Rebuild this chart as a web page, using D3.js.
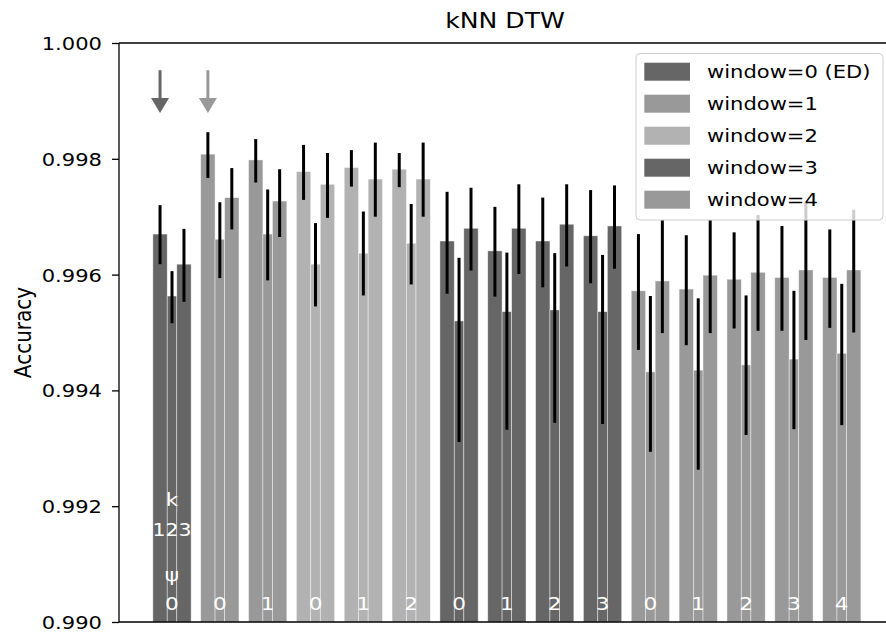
<!DOCTYPE html>
<html>
<head>
<meta charset="utf-8">
<script src="https://cdn.jsdelivr.net/npm/d3@7"></script>
<style>
  body { margin: 0; background: #fff; }
  text { font-family: "DejaVu Sans", sans-serif; }
</style>
</head>
<body>
<script>

// one group per (window, psi) setting, three bars per group (k = 1, 2, 3)
var windows = [0, 1, 1, 2, 2, 2, 3, 3, 3, 3, 4, 4, 4, 4, 4];
var psiLabels = ["0", "0", "1", "0", "1", "2", "0", "1", "2", "3", "0", "1", "2", "3", "4"];
var legendLabels = ["window=0 (ED)", "window=1", "window=2", "window=3", "window=4"];
var windowColors = ["#666666", "#999999", "#b2b2b2", "#666666", "#999999"];
var yTicks = [0.990, 0.992, 0.994, 0.996, 0.998, 1.000];

var k1 = [0.99670, 0.99808, 0.99798, 0.99778, 0.99785, 0.99782, 0.99658, 0.99641, 0.99658, 0.99667, 0.99572, 0.99575, 0.99592, 0.99595, 0.99595];
var k1Lo = [0.99618, 0.99767, 0.99759, 0.99729, 0.99752, 0.99751, 0.99567, 0.99562, 0.99578, 0.99585, 0.99470, 0.99478, 0.99507, 0.99503, 0.99508];
var k1Hi = [0.99720, 0.99846, 0.99834, 0.99824, 0.99815, 0.99810, 0.99743, 0.99717, 0.99733, 0.99746, 0.99670, 0.99668, 0.99673, 0.99684, 0.99678];

var k2 = [0.99563, 0.99661, 0.99670, 0.99618, 0.99637, 0.99654, 0.99520, 0.99536, 0.99539, 0.99536, 0.99432, 0.99435, 0.99444, 0.99454, 0.99464];
var k2Lo = [0.99516, 0.99594, 0.99590, 0.99545, 0.99564, 0.99583, 0.99311, 0.99332, 0.99344, 0.99342, 0.99294, 0.99263, 0.99323, 0.99333, 0.99340];
var k2Hi = [0.99606, 0.99725, 0.99747, 0.99689, 0.99709, 0.99722, 0.99629, 0.99638, 0.99637, 0.99634, 0.99563, 0.99559, 0.99564, 0.99572, 0.99584];

var k3 = [0.99618, 0.99733, 0.99727, 0.99756, 0.99765, 0.99765, 0.99680, 0.99680, 0.99687, 0.99684, 0.99589, 0.99599, 0.99604, 0.99608, 0.99608];
var k3Lo = [0.99553, 0.99678, 0.99665, 0.99698, 0.99700, 0.99700, 0.99607, 0.99601, 0.99614, 0.99610, 0.99499, 0.99499, 0.99503, 0.99487, 0.99500];
var k3Hi = [0.99679, 0.99784, 0.99782, 0.99810, 0.99828, 0.99828, 0.99750, 0.99756, 0.99756, 0.99754, 0.99694, 0.99694, 0.99703, 0.99726, 0.99712];

// arrows marking the best setting of the first two windows
var arrowGroups = [0, 1];
var arrowColors = ["#666666", "#999999"];

var width = 886, height = 634;
var plotLeft = 119, plotTop = 43, plotBottom = 622;
var sx = 1.17; // the picture is a bit wider than tall, text too

var svg = d3.select("body").append("svg")
    .attr("width", width)
    .attr("height", height);

var step = 47.84;
var x = d3.scaleLinear().domain([-1.1, 15.1]).range([172 - 1.1 * step, 172 + 15.1 * step]);
var y = d3.scaleLinear().domain([0.990, 1.000]).range([plotBottom, plotTop]);

// bars: k=1 left, k=2 narrow middle, k=3 right
var series = [
  {vals: k1, lo: k1Lo, hi: k1Hi, off: -0.25, w: 0.3},
  {vals: k2, lo: k2Lo, hi: k2Hi, off: 0, w: 0.2},
  {vals: k3, lo: k3Lo, hi: k3Hi, off: 0.25, w: 0.3}
];

var plot = svg.append("g");

series.forEach(function(s) {
  plot.selectAll(null)
      .data(s.vals)
      .enter()
      .append("rect")
      .attr("x", function(d, i) { return x(i + s.off - s.w / 2); })
      .attr("width", function(d, i) { return x(i + s.off + s.w / 2) - x(i + s.off - s.w / 2); })
      .attr("y", function(d) { return y(d); })
      .attr("height", function(d) { return y(0.990) - y(d); })
      .attr("fill", function(d, i) { return windowColors[windows[i]]; })
      .attr("stroke", "#fff")
      .attr("stroke-width", 0.7)
      .attr("stroke-opacity", 0.6);
});

series.forEach(function(s) {
  plot.selectAll(null)
      .data(s.vals)
      .enter()
      .append("line")
      .attr("x1", function(d, i) { return x(i + s.off); })
      .attr("x2", function(d, i) { return x(i + s.off); })
      .attr("y1", function(d, i) { return y(s.lo[i]); })
      .attr("y2", function(d, i) { return y(s.hi[i]); })
      .attr("stroke", "#000")
      .attr("stroke-width", 3);
});

// stretched text helper
function stext(g, px, py, str, size, anchor, color) {
  return g.append("text")
      .attr("transform", "translate(" + px + "," + py + ") scale(" + sx + ",1)")
      .attr("text-anchor", anchor)
      .style("font-size", size + "px")
      .style("fill", color)
      .text(str);
}

// labels inside the bars
psiLabels.forEach(function(p, i) {
  stext(plot, x(i), 610, p, 18.5, "middle", "#fff");
});
stext(plot, x(0), 506, "k", 18.5, "middle", "#fff");
stext(plot, x(0), 536, "123", 17.5, "middle", "#fff");
stext(plot, x(0), 581, "\u03c8", 18.5, "middle", "#fff");

// arrows
arrowGroups.forEach(function(gi, j) {
  var ax = x(gi - 0.25);
  plot.append("line")
      .attr("x1", ax).attr("x2", ax)
      .attr("y1", y(0.99953)).attr("y2", y(0.99905))
      .attr("stroke", arrowColors[j])
      .attr("stroke-width", 3);
  plot.append("path")
      .attr("d", "M" + (ax - 9) + "," + y(0.99905) + "L" + (ax + 9) + "," + y(0.99905) + "L" + ax + "," + y(0.99879) + "Z")
      .attr("fill", arrowColors[j]);
});

// y axis
var yAxis = svg.append("g")
    .attr("transform", "translate(" + plotLeft + ",0)")
    .call(d3.axisLeft(y).tickValues(yTicks).tickFormat(d3.format(".3f")).tickSize(7));
yAxis.select(".domain").remove();
yAxis.selectAll(".tick line").attr("stroke", "#000").attr("stroke-width", 1.3);
yAxis.selectAll(".tick text")
    .attr("x", -17 / sx)
    .attr("dy", "0.36em")
    .attr("transform", "scale(" + sx + ",1)")
    .style("font-size", "18px")
    .style("font-family", "DejaVu Sans")
    .style("fill", "#000");

// spines
svg.append("line").attr("x1", plotLeft).attr("x2", plotLeft).attr("y1", plotTop).attr("y2", plotBottom)
    .attr("stroke", "#000").attr("stroke-width", 1.3);
svg.append("line").attr("x1", plotLeft).attr("x2", width).attr("y1", plotTop).attr("y2", plotTop)
    .attr("stroke", "#000").attr("stroke-width", 1.3);
svg.append("line").attr("x1", plotLeft).attr("x2", width).attr("y1", plotBottom).attr("y2", plotBottom)
    .attr("stroke", "#000").attr("stroke-width", 1.3);

// title and y label
stext(svg, 505, 28, "kNN DTW", 21.5, "middle", "#000");
svg.append("text")
    .attr("transform", "translate(31," + ((plotTop + plotBottom) / 2) + ") scale(" + sx + ",1) rotate(-90)")
    .attr("text-anchor", "middle")
    .style("font-size", "20px")
    .style("fill", "#000")
    .text("Accuracy");

// legend, drawn over the bars with a see-through white box
var legend = svg.append("g");
legend.append("rect")
    .attr("x", 636).attr("y", 53.5)
    .attr("width", 247).attr("height", 166.5)
    .attr("rx", 4)
    .attr("fill", "#fff").attr("fill-opacity", 0.8)
    .attr("stroke", "#cccccc").attr("stroke-width", 1);

legendLabels.forEach(function(lab, i) {
  var ly = 62.7 + i * 32;
  legend.append("rect")
      .attr("x", 644.3).attr("y", ly)
      .attr("width", 45.7).attr("height", 18)
      .attr("fill", windowColors[i]);
  stext(legend, 707, ly + 15.6, lab, 18, "start", "#000");
});

</script>
</body>
</html>
